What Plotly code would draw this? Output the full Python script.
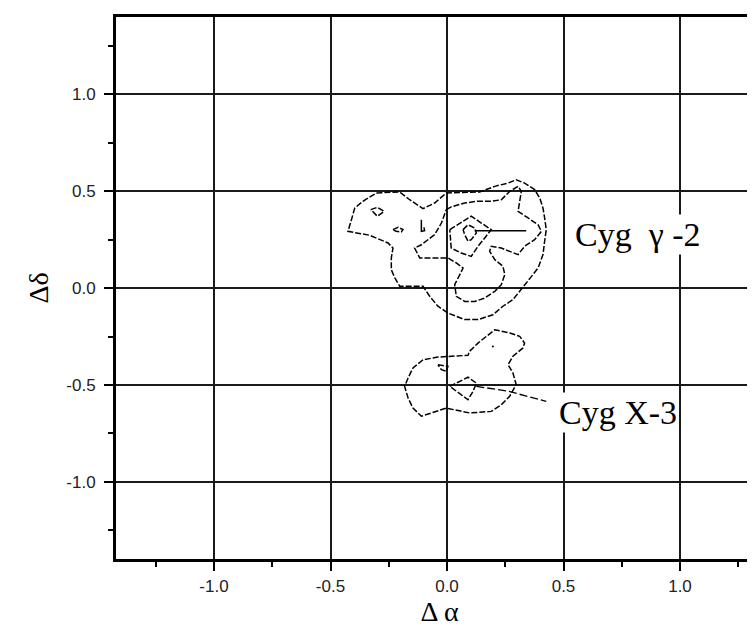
import plotly.graph_objects as go

# ---- contour data (Δα, Δδ in degrees) ----
g2_outer_x = [-0.303, -0.203, -0.160, -0.103, -0.053, -0.003, 0.140, 0.205, 0.262, 0.297, 0.333, 0.376,
              0.398, 0.412, 0.419, 0.426, 0.419, 0.412, 0.391, 0.348, 0.312, 0.283, 0.240, 0.197, 0.133,
              0.076, 0.004, -0.039, -0.074, -0.103, -0.203, -0.224, -0.239, -0.239, -0.232, -0.253,
              -0.296, -0.332, -0.389, -0.425, -0.408, -0.396, -0.361]
g2_outer_y = [0.490, 0.495, 0.455, 0.409, 0.438, 0.490, 0.495, 0.524, 0.541, 0.558, 0.541, 0.507,
              0.464, 0.412, 0.361, 0.301, 0.241, 0.172, 0.103, 0.035, -0.017, -0.060, -0.094, -0.138, -0.163,
              -0.163, -0.129, -0.094, -0.043, 0.009, 0.009, 0.052, 0.094, 0.155, 0.206, 0.232,
              0.254, 0.272, 0.284, 0.292, 0.361, 0.412, 0.447]

g2_mid_x = [-0.003, 0.018, 0.076, 0.126, 0.190, 0.233, 0.269, 0.305, 0.319, 0.312, 0.305, 0.348, 0.391,
            0.405, 0.376, 0.333, 0.305, 0.269, 0.233, 0.190, 0.183, 0.205, 0.240, 0.248, 0.233, 0.205,
            0.162, 0.119, 0.076, 0.040, 0.033, 0.055, 0.069, 0.040, 0.004, -0.117, -0.139, -0.110,
            -0.053, -0.024]
g2_mid_y = [0.404, 0.418, 0.438, 0.447, 0.447, 0.455, 0.498, 0.524, 0.498, 0.447, 0.395, 0.361, 0.326,
            0.292, 0.249, 0.215, 0.172, 0.189, 0.206, 0.215, 0.189, 0.146, 0.112, 0.069, 0.017, -0.017,
            -0.052, -0.069, -0.069, -0.043, 0.017, 0.069, 0.103, 0.129, 0.155, 0.155, 0.206, 0.223,
            0.275, 0.335]

g2_inner_x = [0.012, 0.069, 0.104, 0.147, 0.190, 0.162, 0.133, 0.104, 0.061, 0.018]
g2_inner_y = [0.301, 0.344, 0.370, 0.335, 0.301, 0.258, 0.215, 0.163, 0.180, 0.206]

g2_peak_x = [0.069, 0.090, 0.119, 0.126, 0.104, 0.090, 0.076]
g2_peak_y = [0.301, 0.326, 0.309, 0.284, 0.249, 0.241, 0.275]

g2_spot1_x = [-0.327, -0.299, -0.270, -0.299]
g2_spot1_y = [0.404, 0.416, 0.395, 0.370]

g2_spot2_x = [-0.232, -0.210, -0.189, -0.196, -0.218]
g2_spot2_y = [0.301, 0.313, 0.301, 0.289, 0.292]

g2_spot3_x = [-0.110, -0.110, -0.096, -0.099]
g2_spot3_y = [0.352, 0.292, 0.295, 0.313]

x3_outer_x = [-0.103, -0.146, -0.167, -0.182, -0.167, -0.146, -0.110, -0.067, -0.003, 0.097, 0.190,
              0.233, 0.269, 0.297, 0.283, 0.262, 0.283, 0.326, 0.333, 0.312, 0.269, 0.205, 0.176,
              0.133, 0.097, 0.090, -0.039]
x3_outer_y = [-0.370, -0.412, -0.464, -0.507, -0.567, -0.619, -0.661, -0.644, -0.619, -0.644, -0.636,
              -0.602, -0.558, -0.498, -0.438, -0.395, -0.352, -0.309, -0.284, -0.249, -0.232, -0.215,
              -0.241, -0.284, -0.326, -0.347, -0.356]

x3_spot_x = [-0.039, 0.004, -0.003, -0.024]
x3_spot_y = [-0.395, -0.404, -0.429, -0.421]

x3_peak_x = [0.012, 0.090, 0.126, 0.112, 0.090]
x3_peak_y = [-0.507, -0.460, -0.490, -0.532, -0.576]

x3_dot_x = [0.197]
x3_dot_y = [-0.301]

g2_leader_x = [0.119, 0.340]
g2_leader_y = [0.295, 0.295]
x3_leader_x = [0.126, 0.262, 0.426]
x3_leader_y = [-0.507, -0.532, -0.584]

labels = ["Cyg\u00a0 \u03b3 -2", "Cyg X-3"]
label_x = [0.82, 0.735]
label_y = [0.276, -0.640]

tick_vals = [-1.0, -0.5, 0.0, 0.5, 1.0]
tick_text = ["-1.0", "-0.5", "0.0", "0.5", "1.0"]

fig = go.Figure()

closed = [(g2_outer_x, g2_outer_y), (g2_mid_x, g2_mid_y), (g2_inner_x, g2_inner_y),
          (g2_peak_x, g2_peak_y), (g2_spot1_x, g2_spot1_y), (g2_spot2_x, g2_spot2_y),
          (x3_outer_x, x3_outer_y), (x3_spot_x, x3_spot_y), (x3_peak_x, x3_peak_y)]
for xs, ys in closed:
    fig.add_trace(go.Scatter(x=xs + xs[:1], y=ys + ys[:1], mode="lines",
                             line=dict(color="black", width=1.5, dash="6px,2px"),
                             showlegend=False, hoverinfo="skip"))

fig.add_trace(go.Scatter(x=g2_spot3_x, y=g2_spot3_y, mode="lines",
                         line=dict(color="black", width=1.5), showlegend=False, hoverinfo="skip"))
fig.add_trace(go.Scatter(x=x3_dot_x, y=x3_dot_y, mode="markers",
                         marker=dict(color="black", size=2), showlegend=False, hoverinfo="skip"))
fig.add_trace(go.Scatter(x=g2_leader_x, y=g2_leader_y, mode="lines",
                         line=dict(color="black", width=1.3), showlegend=False, hoverinfo="skip"))
fig.add_trace(go.Scatter(x=x3_leader_x, y=x3_leader_y, mode="lines",
                         line=dict(color="black", width=1.3, dash="8px,3px"),
                         showlegend=False, hoverinfo="skip"))

for t, ax, ay in zip(labels, label_x, label_y):
    fig.add_annotation(x=ax, y=ay, text=t, showarrow=False, bgcolor="white", borderpad=1,
                       font=dict(family="Liberation Serif", size=34, color="black"))

axis_common = dict(
    showline=True, linewidth=3, linecolor="black",
    showgrid=True, gridcolor="#1a1a1a", gridwidth=1.5, zeroline=False,
    ticks="outside", ticklen=9, tickwidth=2, tickcolor="black",
    tickvals=tick_vals, ticktext=tick_text,
    tickfont=dict(family="Liberation Sans", size=17, color="#222"),
    minor=dict(dtick=0.25, ticks="outside", ticklen=5, tickwidth=2, tickcolor="black", showgrid=False),
)

fig.update_xaxes(range=[-1.4206, 1.3562], mirror=True, ticklabelstandoff=1,
                 title=dict(text="\u0394 \u03b1", standoff=4,
                            font=dict(family="Liberation Serif", size=28, color="black")),
                 **axis_common)
fig.update_yaxes(range=[-1.397, 1.397], mirror=False, ticklabelstandoff=5,
                 title=dict(text="\u0394\u03b4", standoff=10,
                            font=dict(family="Liberation Serif", size=28, color="black")),
                 **axis_common)

fig.update_layout(width=755, height=631, margin=dict(l=108, r=0, t=9, b=80, autoexpand=False),
                  plot_bgcolor="white", paper_bgcolor="white")

fig.write_html("out.html")
